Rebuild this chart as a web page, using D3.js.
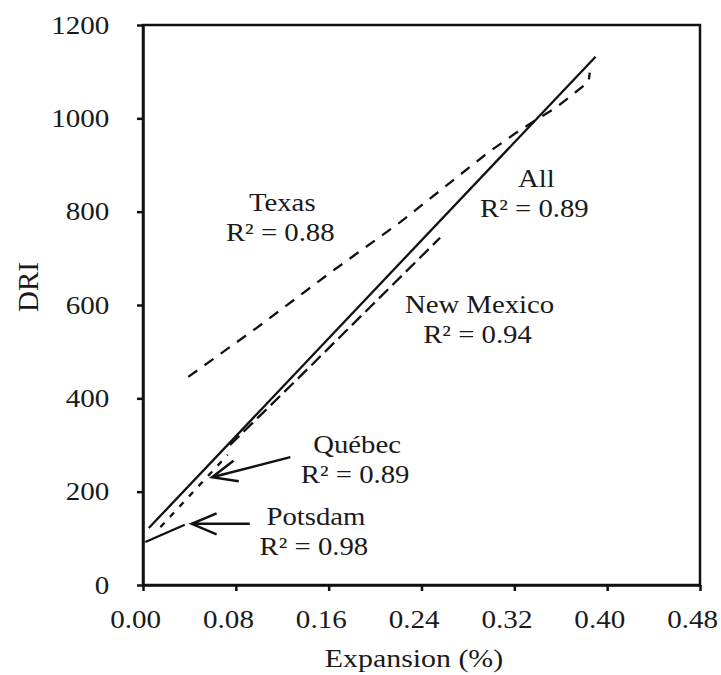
<!DOCTYPE html>
<html lang="en">
<head>
<meta charset="utf-8">
<title>DRI vs Expansion</title>
<script src="https://d3js.org/d3.v7.min.js"></script>
<style>
  body { margin: 0; background: white; }
  text { font-family: "Liberation Serif", "Times New Roman", serif; fill: #1a1a1a; }
  .axis path, .axis line { stroke: #111; stroke-width: 2.5; }
  .fit { fill: none; stroke: #111; stroke-width: 2.3; }
</style>
</head>
<body>
<script>
// tick values
var xTicks = [0, 0.08, 0.16, 0.24, 0.32, 0.40, 0.48];
var yTicks = [0, 200, 400, 600, 800, 1000, 1200];

// fitted lines (expansion %, DRI)
var allSites  = [[0.005, 122], [0.390, 1132]];
var potsdam   = [[0.002, 92], [0.036, 129]];
var quebec    = [[0.015, 124], [0.073, 279]];
var newMexico = [[0.075, 300], [0.135, 446], [0.256, 744]];
var texas     = [[0.039, 446], [0.098, 551], [0.159, 665], [0.222, 778], [0.297, 926],
                 [0.325, 975], [0.357, 1025], [0.384, 1078], [0.385, 1098]];

// labels: name, r2, anchor in data units
var labelNames = ["Texas", "All", "New Mexico", "Québec", "Potsdam"];
var labelR2    = ["0.88", "0.89", "0.94", "0.89", "0.98"];
var labelX     = [0.120, 0.339, 0.290, 0.1845, 0.149];
var labelY     = [802, 853, 583, 283, 129];

// arrows: tail -> tip, data units
var arrowFrom = [[0.127, 274], [0.092, 131]];
var arrowTo   = [[0.0595, 231], [0.042, 131]];

var w = 721, h = 675;
var x = d3.scaleLinear().domain([0, 0.48]).range([143, 700]);
var y = d3.scaleLinear().domain([0, 1200]).range([585, 25]);

var svg = d3.select("body").append("svg").attr("width", w).attr("height", h);

// frame
svg.append("rect")
  .attr("x", x(0)).attr("y", y(1200))
  .attr("width", x(0.48) - x(0)).attr("height", y(0) - y(1200))
  .attr("fill", "none").attr("stroke", "#111").attr("stroke-width", 2.5);

// axes
var yAxis = d3.axisLeft(y).tickValues(yTicks).tickSize(6).tickSizeOuter(0).tickPadding(24)
  .tickFormat(d3.format("d"));
var xAxis = d3.axisBottom(x).tickValues(xTicks).tickSize(6).tickSizeOuter(0).tickPadding(19)
  .tickFormat(d3.format(".2f"));

var gy = svg.append("g").attr("class", "axis").attr("transform", "translate(" + x(0) + ",0)").call(yAxis);
var gx = svg.append("g").attr("class", "axis").attr("transform", "translate(0," + y(0) + ")").call(xAxis);

gy.selectAll("text").style("font-size", "26px").attr("transform", "scale(1.12,1)")
  .style("font-family", "Liberation Serif").attr("fill", "#1a1a1a");
gx.selectAll("text").style("font-size", "26px").attr("transform", "scale(1.12,1)")
  .attr("x", -7).style("font-family", "Liberation Serif").attr("fill", "#1a1a1a");

// axis titles
svg.append("text").attr("transform", "translate(414,667) scale(1.15,1)")
  .attr("text-anchor", "middle").style("font-size", "26px").text("Expansion (%)");
svg.append("text").attr("transform", "translate(38,287) rotate(-90)")
  .attr("text-anchor", "middle").style("font-size", "29px").text("DRI");

// fit lines
var line = d3.line().x(function(d) { return x(d[0]); }).y(function(d) { return y(d[1]); });

svg.append("path").datum(allSites).attr("class", "fit").attr("d", line);
svg.append("path").datum(potsdam).attr("class", "fit").attr("d", line);
svg.append("path").datum(quebec).attr("class", "fit").attr("stroke-dasharray", "6,8").attr("d", line);
svg.append("path").datum(newMexico).attr("class", "fit").attr("stroke-dasharray", "13,6").attr("d", line);
svg.append("path").datum(texas).attr("class", "fit").attr("stroke-dasharray", "11,9").attr("d", line);

// labels
for (var i = 0; i < labelNames.length; i++) {
  var lx = x(labelX[i]), ly = y(labelY[i]);
  svg.append("text").attr("transform", "translate(" + lx + "," + ly + ") scale(1.15,1)")
    .attr("text-anchor", "middle").style("font-size", "25px").text(labelNames[i]);
  svg.append("text").attr("transform", "translate(" + (lx - 2) + "," + (ly + 30) + ") scale(1.15,1)")
    .attr("text-anchor", "middle").style("font-size", "25px").text("R\u00B2 = " + labelR2[i]);
}

// arrows
for (var j = 0; j < arrowFrom.length; j++) {
  var x0 = x(arrowFrom[j][0]), y0 = y(arrowFrom[j][1]);
  var x1 = x(arrowTo[j][0]), y1 = y(arrowTo[j][1]);
  var ang = Math.atan2(y0 - y1, x0 - x1);
  var len = 27, spread = 23 * Math.PI / 180;
  var p = d3.path();
  p.moveTo(x0, y0); p.lineTo(x1, y1);
  p.moveTo(x1 + len * Math.cos(ang - spread), y1 + len * Math.sin(ang - spread));
  p.lineTo(x1, y1);
  p.lineTo(x1 + len * Math.cos(ang + spread), y1 + len * Math.sin(ang + spread));
  svg.append("path").attr("d", p.toString()).attr("fill", "none")
    .attr("stroke", "#111").attr("stroke-width", 2.5);
}
</script>
</body>
</html>
